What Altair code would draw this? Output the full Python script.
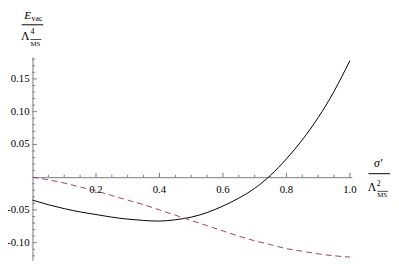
import altair as alt
import pandas as pd

# ---- data ----
sigma = [0.0, 0.05, 0.1, 0.15, 0.2, 0.25, 0.3, 0.35, 0.4, 0.45, 0.5,
         0.55, 0.6, 0.65, 0.7, 0.75, 0.8, 0.85, 0.9, 0.95, 1.0]
e_solid = [-0.035, -0.042, -0.048, -0.053, -0.057, -0.061, -0.064, -0.066, -0.067, -0.065, -0.061,
           -0.054, -0.044, -0.032, -0.017, 0.003, 0.028, 0.057, 0.091, 0.131, 0.178]
e_dashed = [0.0, -0.004, -0.009, -0.015, -0.021, -0.028, -0.035, -0.042, -0.050, -0.058, -0.066,
            -0.074, -0.082, -0.090, -0.097, -0.103, -0.109, -0.113, -0.117, -0.120, -0.122]

x_labels = [0.2, 0.4, 0.6, 0.8, 1.0]
x_label_text = ["0.2", "0.4", "0.6", "0.8", "1.0"]
y_labels = [-0.10, -0.05, 0.05, 0.10, 0.15]
y_label_text = ["-0.10", "-0.05", "0.05", "0.10", "0.15"]
x_major = [0.2, 0.4, 0.6, 0.8, 1.0]
x_minor = [0.05, 0.1, 0.15, 0.25, 0.3, 0.35, 0.45, 0.5, 0.55, 0.65, 0.7, 0.75, 0.85, 0.9, 0.95]
y_major = [-0.10, -0.05, 0.05, 0.10, 0.15]
y_minor = [-0.12, -0.11, -0.09, -0.08, -0.07, -0.06, -0.04, -0.03, -0.02, -0.01,
           0.01, 0.02, 0.03, 0.04, 0.06, 0.07, 0.08, 0.09, 0.11, 0.12, 0.13, 0.14,
           0.16, 0.17, 0.18]

X_DOMAIN = [0, 1.006]
Y_DOMAIN = [-0.127, 0.184]
W, H = 326, 208
PAD_L, PAD_T = 25, 47
OX, OY = 8 + PAD_L, 8 + PAD_T  # plot origin on the page

FONT = "Liberation Serif"
AXIS_GRAY = "#7a7a7a"
DASH_COLOR = "#993d74"

xscale = alt.Scale(domain=X_DOMAIN, nice=False, zero=False)
yscale = alt.Scale(domain=Y_DOMAIN, nice=False, zero=False)

df = pd.DataFrame({"sigma": sigma, "solid": e_solid, "dashed": e_dashed})

x_offset = -H * (0 - Y_DOMAIN[0]) / (Y_DOMAIN[1] - Y_DOMAIN[0])

x_axis = alt.Axis(orient="bottom", offset=x_offset, labels=False,
                  ticks=False, tickSize=0, grid=False, title="",
                  domainColor=AXIS_GRAY, domainWidth=1)
y_axis = alt.Axis(orient="left", labels=False,
                  ticks=False, tickSize=0, grid=False, title="",
                  domainColor=AXIS_GRAY, domainWidth=1)

solid = alt.Chart(df).mark_line(color="black", strokeWidth=1, interpolate="natural").encode(
    x=alt.X("sigma:Q", scale=xscale, axis=x_axis),
    y=alt.Y("solid:Q", scale=yscale, axis=y_axis),
)
dashed = alt.Chart(df).mark_line(color=DASH_COLOR, strokeWidth=1, strokeDash=[6, 4],
                                 interpolate="natural").encode(
    x=alt.X("sigma:Q", scale=xscale, axis=x_axis),
    y=alt.Y("dashed:Q", scale=yscale, axis=y_axis),
)


def yticks(vals, length):
    d = pd.DataFrame({"v": vals})
    return alt.Chart(d).mark_rule(color=AXIS_GRAY, strokeWidth=1).encode(
        y=alt.Y("v:Q", scale=yscale, axis=y_axis),
        x=alt.value(0), x2=alt.value(length))


def xticks(vals, length):
    d = pd.DataFrame({"v": vals, "z": [0.0] * len(vals), "z2": [0.0] * len(vals)})
    return alt.Chart(d).mark_rule(color=AXIS_GRAY, strokeWidth=1, y2Offset=-length).encode(
        x=alt.X("v:Q", scale=xscale, axis=x_axis),
        y=alt.Y("z:Q", scale=yscale, axis=y_axis), y2="z2:Q")


x_tick_labels = alt.Chart(pd.DataFrame({"v": x_labels, "t": x_label_text,
                                        "z": [0.0] * len(x_labels)})).mark_text(
    font=FONT, fontSize=11, baseline="top", align="center", dy=7, color="black").encode(
    x=alt.X("v:Q", scale=xscale, axis=x_axis),
    y=alt.Y("z:Q", scale=yscale, axis=y_axis),
    text="t:N")

y_tick_labels = alt.Chart(pd.DataFrame({"v": y_labels, "t": y_label_text})).mark_text(
    font=FONT, fontSize=11, baseline="middle", align="right", color="black").encode(
    y=alt.Y("v:Q", scale=yscale, axis=y_axis),
    x=alt.value(-3),
    text="t:N")


def txt(s, px, py, size=12, italic=False, align="left", baseline="alphabetic"):
    return alt.Chart(pd.DataFrame({"t": [s]})).mark_text(
        font=FONT, fontSize=size, fontStyle="italic" if italic else "normal",
        align=align, baseline=baseline, color="black").encode(
        text="t:N", x=alt.value(px - OX), y=alt.value(py - OY))


def hline(x1, x2, py, width=1):
    return alt.Chart(pd.DataFrame({"a": [1]})).mark_rule(color="black", strokeWidth=width).encode(
        x=alt.value(x1 - OX), x2=alt.value(x2 - OX), y=alt.value(py - OY))


title_layers = [
    # y title: E_vac / Λ^4_MS
    txt("E", 31.5, 17, 11.5, italic=True, align="right"),
    txt("vac", 32, 18.5, 8),
    hline(22, 44, 22.5),
    txt("Λ", 30, 38, 12, align="right"),
    txt("4", 31, 32, 8),
    txt("MS", 31, 44, 7),
    hline(31, 42, 37.5, 0.7),
    # x title: σ' / Λ^2_MS
    txt("σ′", 386, 168, 12, italic=True, align="center"),
    hline(376, 398, 174.5),
    txt("Λ", 384, 192, 12, align="right"),
    txt("2", 384.5, 187, 8),
    txt("MS", 385, 198, 7),
    hline(385, 396, 192.5, 0.7),
]

chart = alt.layer(
    solid,
    x_tick_labels, y_tick_labels,
    dashed,
    yticks(y_minor, 2.5), yticks(y_major, 4.5),
    xticks(x_minor, 2.5), xticks(x_major, 4.5),
    *title_layers
).properties(
    width=W, height=H, autosize="none",
    padding={"left": PAD_L, "top": PAD_T, "right": 399 - 8 - PAD_L - W, "bottom": 0},
).configure_view(stroke=None)

chart.save("out.html", embed_options={"renderer": "svg", "actions": False})
